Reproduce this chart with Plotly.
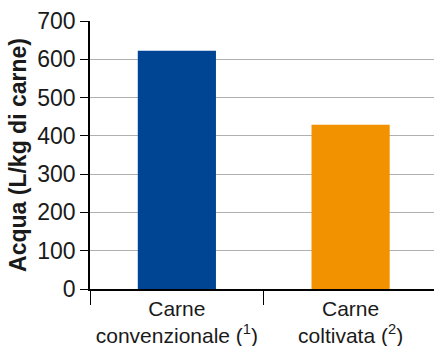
import plotly.graph_objects as go

# Water use per kg of meat
categories = ["Carne<br>convenzionale (<sup>1</sup>)", "Carne<br>coltivata (<sup>2</sup>)"]
water_values = [622, 429]
bar_colors = ["#004494", "#F39200"]
y_ticks = [0, 100, 200, 300, 400, 500, 600, 700]

FONT = "Liberation Sans, Arial, sans-serif"

fig = go.Figure(
    go.Bar(
        x=categories,
        y=water_values,
        marker=dict(color=bar_colors, line=dict(width=0)),
        width=0.45,
    )
)

fig.update_layout(
    width=434,
    height=346,
    margin=dict(l=90, r=0, t=21, b=57),
    paper_bgcolor="white",
    plot_bgcolor="white",
    showlegend=False,
    font=dict(family=FONT, color="#1a1a1a"),
)

fig.update_xaxes(
    showline=True,
    linecolor="black",
    linewidth=1.5,
    ticks="outside",
    tickson="boundaries",
    ticklen=14,
    tickcolor="black",
    tickwidth=1,
    tickfont=dict(size=21, family=FONT, color="#1a1a1a"),
    showgrid=False,
    automargin=False,
    range=[-0.5, 1.48],
)

fig.update_yaxes(
    range=[0, 700],
    tickvals=y_ticks,
    showline=True,
    linecolor="black",
    linewidth=1.5,
    ticks="outside",
    ticklen=8,
    tickcolor="black",
    tickwidth=1,
    tickfont=dict(size=23, family=FONT, color="#1a1a1a"),
    showgrid=True,
    gridcolor="#b0b0b0",
    gridwidth=1,
    zeroline=False,
    automargin=False,
    title=dict(
        text="<b>Acqua (L/kg di carne)</b>",
        font=dict(size=23, family=FONT, color="#1a1a1a"),
        standoff=4,
    ),
)

fig.write_html("out.html")
